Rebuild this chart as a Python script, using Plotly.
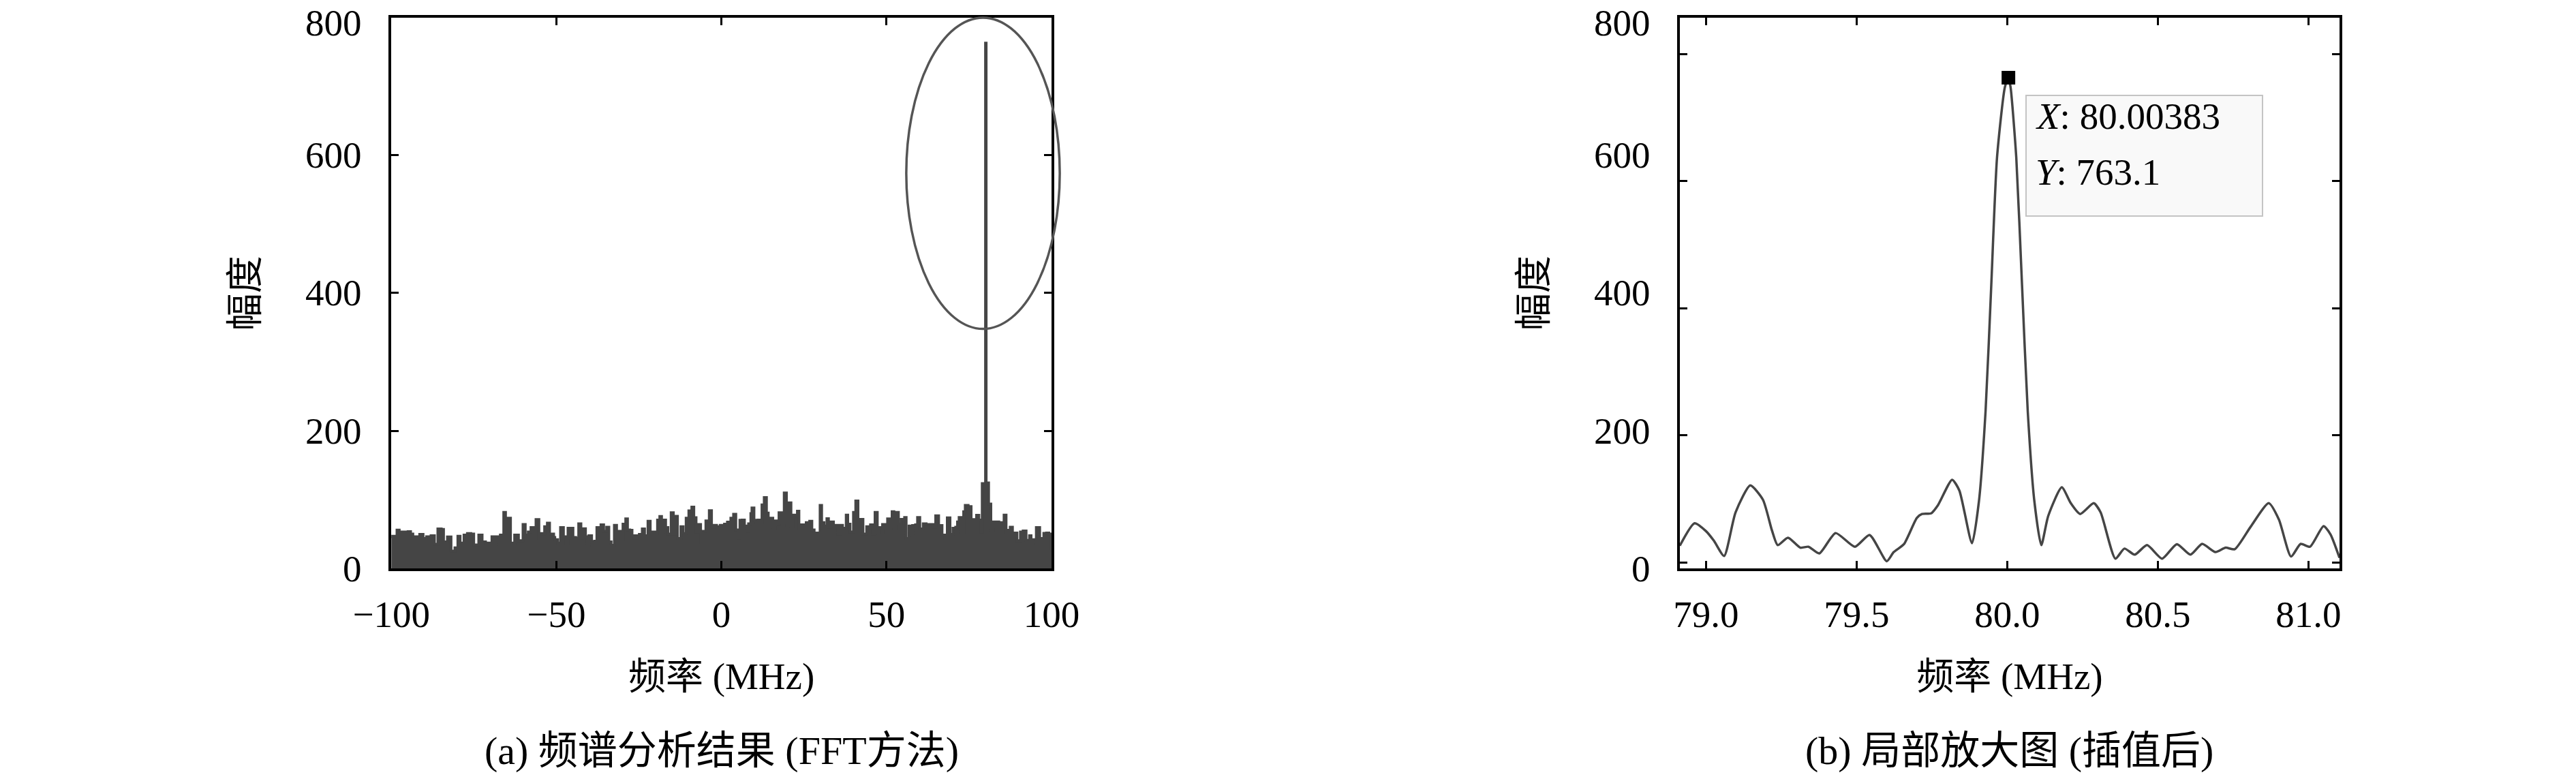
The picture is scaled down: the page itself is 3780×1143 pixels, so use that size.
import plotly.graph_objects as go

W, H = 3780, 1143
FONT = "Liberation Serif, Noto Sans CJK SC, serif"
FS = 55
LINE = "#454545"

# (a) full band FFT: envelope of the noise floor plus the 80 MHz spike
noise_freq = [-100, -99.65, -98.97, -98.28, -97.59, -96.9, -95.87, -94.98, -94.15, -93.46, -92.43, -91.4,
              -90.37, -89.33, -87.96, -86.93, -85.9, -84.86, -84.17, -83.0, -81.9, -80.73, -79.84, -79.15,
              -77.98, -76.95, -75.91, -75.02, -73.51, -72.48, -71.45, -70.76, -69.52, -68.83, -68.14, -66.97,
              -65.94, -65.39, -64.7, -63.88, -62.64, -61.47, -60.1, -59.41, -58.51, -57.69, -57.0, -56.17,
              -55.28, -54.38, -53.56, -52.73, -52.05, -50.81,
              -50.46, -49.63, -48.74, -47.85, -47.16, -46.47, -45.64, -44.96, -44.13, -43.24, -42.55, -42.0,
              -41.17, -40.69, -40.14, -39.31, -38.42, -37.73, -37.04, -36.49, -35.67, -34.77, -34.09, -33.4,
              -32.43, -31.75, -31.2, -30.51, -29.82, -28.99, -28.44, -27.76, -27.07, -26.38, -25.55, -24.87,
              -23.97, -23.28, -22.25, -21.56, -20.88, -20.19, -19.36, -18.67, -18.12, -17.57, -16.89, -16.2,
              -15.23, -14.55, -14.13, -13.31, -12.28, -11.59, -10.69, -9.87, -8.97, -8.35, -7.67, -6.98,
              -6.29, -5.6, -4.71, -3.68, -2.99, -2.16, -1.47, -0.37,
              0.1, 0.93, 1.82, 2.85, 3.68, 4.37, 4.92, 5.6, 6.29, 6.98, 7.67, 8.22, 8.91, 9.25, 9.87, 10.42,
              11.11, 11.8, 12.28, 12.97, 13.65, 14.2, 14.89, 15.58, 16.27, 16.96, 17.44, 18.19, 19.02, 19.71,
              20.4, 21.08, 21.57, 22.25, 23.01, 23.49, 24.32, 25.01, 25.69, 26.24, 26.73, 27.41, 28.1, 28.86,
              29.89, 30.37, 31.06, 31.95, 32.44, 33.12, 33.95, 34.5, 35.19, 35.88, 36.7, 37.25, 37.8, 38.28,
              38.97, 40.0, 40.69, 41.38, 42.21, 42.89, 43.99, 45.16, 45.85, 46.54, 47.23, 47.92, 48.81,
              49.64, 50.33, 51.02, 51.7, 52.25, 52.87, 53.63, 54.46, 55.49, 55.97, 56.86, 57.35, 57.9, 58.79,
              59.41, 60.1, 61.13, 62.02, 63.4, 64.09, 64.91, 65.81, 66.84, 67.67, 68.42, 69.25, 70.14, 70.97,
              71.52, 72.0, 72.69, 73.38, 73.86, 74.75, 75.65, 76.47, 77.3, 77.99, 78.54, 79.0, 80.0, 80.2,
              80.94, 81.63, 82.32, 83.35, 84.04, 84.87, 85.62, 86.24, 86.79, 87.48, 88.17, 88.86, 89.54,
              90.58, 91.4, 92.3, 93.33, 93.81, 94.5, 95.39, 96.42, 97.66, 98.49, 99.18, 99.73, 100]
noise_amp = [46, 46.8, 36.9, 55.8, 37, 53, 52.5, 53.6, 50, 46, 46, 49.5,
             43.6, 46, 47.5, 35.3, 57.4, 56.8, 38.6, 45.9, 25.3, 30, 46.8, 36.9,
             48.5, 50.8, 50, 34.3, 48.5, 38.6, 36.9, 37, 46, 33.7, 46, 48.5,
             81.5, 37, 73, 37, 48.5, 40.3, 64, 48.5, 53, 59.4, 42, 71,
             50.8, 50, 60.7, 66, 50, 45,
             42, 37, 59.4, 46, 37, 58.4, 58.4, 45, 43.6, 65, 44, 57.7,
             46, 33.7, 47.5, 38.6, 39.6, 59.4, 46.8, 63.4, 54, 60, 38.6, 33.7,
             62.7, 46, 54, 42, 64.3, 72, 56, 55.4, 47.5, 44, 47.5, 49.5,
             57.4, 47.5, 68.7, 51.5, 53, 50.8, 70.3, 75.5, 51.5, 70.3, 59.4, 50,
             80.9, 50, 75.8, 43.6, 60.7, 50.8, 73, 83.8, 89.1, 73.9, 53, 64,
             37.6, 54, 69, 84, 60, 62.7, 60.7, 62.7,
             60.7, 64.3, 67.3, 73, 78.8, 56, 44, 70, 70.3, 61.7, 54, 65, 79.8, 88, 70, 66.7,
             70.3, 66.7, 92.4, 103, 80.5, 60.7, 73, 57.4, 69, 64, 80.9, 66.7, 109.6, 62.7,
             95.4, 61.7, 77.5, 75.8, 83.2, 57.4, 63.4, 58.4, 66.7, 61.7, 68.7, 56, 46, 51.5,
             91.5, 66.7, 61.7, 72.4, 60, 67.7, 61.7, 62.7, 50, 62.7, 58.4, 58.4, 77.5, 64.3,
             53, 81.5, 98, 59.4, 71.3, 50, 60.7, 63.4, 50, 81.5, 51.5, 59.4, 64,
             51.5, 72, 66.7, 82.5, 58.4, 81.5, 64.3, 71.3, 74, 43.6, 61.7, 48.5, 62.4, 63.4,
             74, 57.4, 65, 64, 64, 60, 76.5, 62.4, 48.5, 42.9, 73.6, 49.5, 58.4, 60,
             67.7, 74, 51.5, 82.5, 91.5, 89.8, 57.4, 71, 77.2, 70.3, 53, 123.4, 763.1, 124.4,
             93.7, 54.5, 67.7, 67.7, 64.3, 66.7, 77.5, 51.5, 55.4, 60, 46.8, 51.5, 40.3,
             53, 54.5, 41, 47.5, 37, 42, 59.4, 43.6, 51, 51.5, 50, 26, 26]

# (b) zoomed, interpolated spectrum around the peak
zoom_freq = [78.913, 78.962, 79.0, 79.026, 79.06, 79.098, 79.147, 79.189, 79.219, 79.238, 79.272, 79.313,
             79.34, 79.376, 79.43, 79.494, 79.543, 79.6, 79.623, 79.657, 79.7, 79.717, 79.747, 79.77,
             79.817, 79.841, 79.883, 79.906, 79.928, 79.947, 79.966, 79.992, 80.00383, 80.011, 80.03,
             80.049, 80.068, 80.09, 80.113, 80.136, 80.181, 80.211, 80.242, 80.287, 80.31, 80.359, 80.389,
             80.423, 80.464, 80.514, 80.563, 80.608, 80.647, 80.691, 80.725, 80.755, 80.808, 80.868,
             80.902, 80.942, 80.974, 81.005, 81.05, 81.073, 81.103]
zoom_amp = [26, 61.5, 49, 34, 10, 78.6, 121, 98.5, 50, 27, 38.7, 23,
            24.5, 14, 46, 24.5, 43, 1.7, 16, 28.5, 70, 76, 77, 90,
            130, 113, 30, 96, 238, 437, 637, 748, 763.1, 748, 637,
            437, 238, 96, 27, 73, 118, 93, 76, 93, 78.6, 5.7, 21.6,
            12, 27, 5.7, 28.5, 12, 29, 16, 23, 20.5, 56, 93,
            67, 9, 29, 24.5, 57, 44, 7]

peak_x, peak_y = 80.00383, 763.1
ellipse_x = [56, 102.5]
ellipse_y = [348, 800]

x1_range, y1_range = [-100, 100], [0, 800]
x2_range, y2_range = [78.913, 81.103], [-9.7, 857.6]
x1_ticks = [-100, -50, 0, 50, 100]
x2_ticks = [79.0, 79.5, 80.0, 80.5, 81.0]
y_ticks = [0, 200, 400, 600, 800]
y_tick_text = ["0", "200", "400", "600", "800"]

x_title = "频率 (MHz)"
y_title = "幅度"
captions = ["(a) 频谱分析结果 (FFT方法)", "(b) 局部放大图 (插值后)"]

fig = go.Figure()
fig.add_trace(go.Scatter(x=noise_freq, y=noise_amp, mode="lines", line=dict(color=LINE, width=4, shape="hv"),
                         fill="tozeroy", fillcolor=LINE, xaxis="x", yaxis="y", showlegend=False))
fig.add_trace(go.Scatter(x=zoom_freq, y=zoom_amp, mode="lines",
                         line=dict(color=LINE, width=3.5, shape="spline", smoothing=0.6),
                         xaxis="x2", yaxis="y2", showlegend=False))
fig.add_trace(go.Scatter(x=[peak_x], y=[peak_y], mode="markers",
                         marker=dict(symbol="square", size=20, color="black"),
                         xaxis="x2", yaxis="y2", showlegend=False, cliponaxis=False))

tfont = dict(family=FONT, size=FS, color="black")
ax = dict(showline=True, linecolor="black", linewidth=4, mirror="ticks", ticks="inside", ticklen=11,
          tickwidth=3, tickcolor="black", showgrid=False, zeroline=False, automargin=False,
          ticklabeloverflow="allow", tickfont=tfont)
xdom1, xdom2, ydom = [0.1519, 0.4082], [0.6521, 0.9082], [0.2703, 0.9773]

fig.update_layout(
    width=W, height=H, margin=dict(l=0, r=0, t=0, b=0, autoexpand=False), autosize=False,
    paper_bgcolor="white", plot_bgcolor="white",
    xaxis=dict(ax, domain=xdom1, range=x1_range, tickvals=x1_ticks, anchor="y", ticklabelstandoff=16,
               title=dict(text=x_title, font=tfont, standoff=42)),
    yaxis=dict(ax, domain=ydom, range=y1_range, tickvals=y_ticks, showticklabels=False, anchor="x"),
    xaxis2=dict(ax, domain=xdom2, range=x2_range, tickvals=x2_ticks, tickformat=".1f", anchor="y2",
                ticklabelstandoff=16, title=dict(text=x_title, font=tfont, standoff=42)),
    yaxis2=dict(ax, domain=ydom, range=y2_range, tickvals=y_ticks, showticklabels=False, anchor="x2"),
)

# ellipse around the spike (domain refs so it is not clipped at the right axis)
ex = [(v - x1_range[0]) / (x1_range[1] - x1_range[0]) for v in ellipse_x]
ey = [(v - y1_range[0]) / (y1_range[1] - y1_range[0]) for v in ellipse_y]
fig.add_shape(type="circle", xref="x domain", yref="y domain", x0=ex[0], x1=ex[1], y0=ey[0], y1=ey[1],
              line=dict(color="#555555", width=3.5))

# y tick labels sit evenly along each axis as in the original (top one nudged inside the page)
n = len(y_tick_text)
for xr, yr in [("x domain", "y domain"), ("x2 domain", "y2 domain")]:
    for i, t in enumerate(y_tick_text):
        fig.add_annotation(text=t, xref=xr, yref=yr, x=0, y=i / (n - 1), xanchor="right", yanchor="middle",
                           xshift=-41, yshift=-8 if i == n - 1 else 0, showarrow=False, font=tfont)
    fig.add_annotation(text=y_title, xref=xr, yref=yr, x=0, y=0.5, xshift=-214, textangle=-90,
                       xanchor="center", yanchor="middle", showarrow=False, font=tfont)

for cap, dom in zip(captions, [xdom1, xdom2]):
    fig.add_annotation(text=cap, xref="paper", yref="paper", x=(dom[0] + dom[1]) / 2, y=0.036,
                       xanchor="center", yanchor="middle", showarrow=False,
                       font=dict(family=FONT, size=58, color="black"))

# data tip box
fig.add_annotation(text=" ", x=peak_x, y=peak_y, xref="x2", yref="y2", xanchor="left", yanchor="top",
                   xshift=25, yshift=-25, width=345, height=175, borderpad=0, showarrow=False,
                   bgcolor="#f9f9f9", bordercolor="#c4c4c4", borderwidth=2)
for label, val, dy in [("X", f"{peak_x:.5f}", -57), ("Y", f"{peak_y:.1f}", -139)]:
    fig.add_annotation(text=f"<i>{label}</i>: {val}", x=peak_x, y=peak_y, xref="x2", yref="y2",
                       xanchor="left", yanchor="middle", xshift=38, yshift=dy, showarrow=False,
                       font=tfont)

fig.write_html("out.html", config={"displayModeBar": False},
               post_script="document.body.style.margin = '0px';")
